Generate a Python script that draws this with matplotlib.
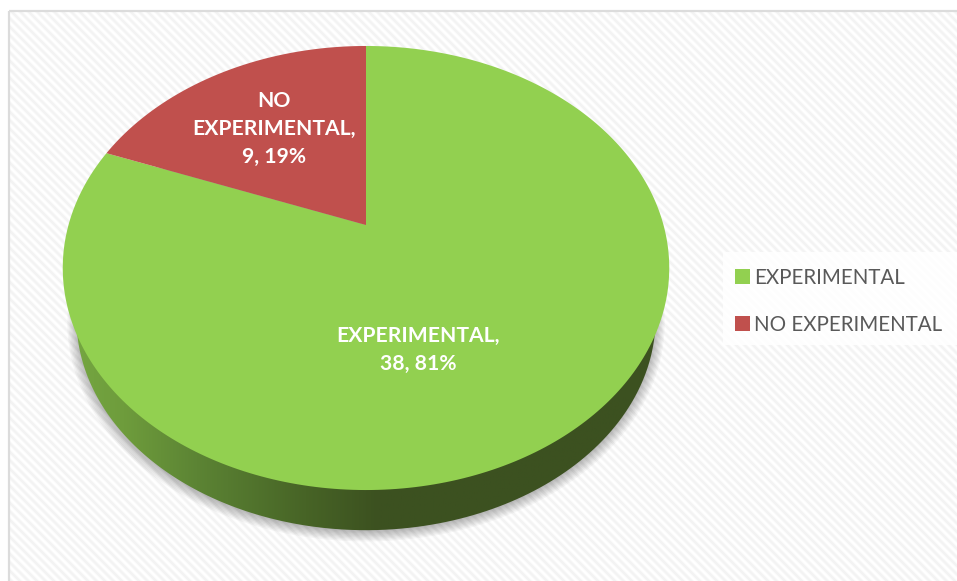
import numpy as np
import matplotlib
matplotlib.use('Agg')
import matplotlib.pyplot as plt
from matplotlib.colors import LinearSegmentedColormap
from matplotlib.patches import Polygon, Rectangle

categories = ['EXPERIMENTAL', 'NO EXPERIMENTAL']
counts = [38, 9]
percents = ['81%', '19%']
colors = ['#92D050', '#C0504D']

plt.rcParams['font.family'] = ['Lato', 'DejaVu Sans']

W, H = 957, 581
fig = plt.figure(figsize=(W / 100, H / 100), dpi=100)
ax = fig.add_axes([0, 0, 1, 1])


def project(theta, scale=1.0, dy=0.0):
    """Tilted pie: circle angle (clockwise from top) to pixel position."""
    p = 0.1937
    v = np.cos(theta)
    x = 366 + scale * 297.5 * np.sin(theta) / (1 + p * v)
    y = 225 - 43 * (1 - scale) - scale * 213.7 * v / (1 + p * v)
    return np.column_stack([x, y + dy])


# ── Background: fine diagonal stripes inside a light frame ──
yy, xx = np.mgrid[0:H, 0:W]
stripes = 0.5 + 0.5 * np.cos(2 * np.pi * (xx - yy) / 8.5)
bg = 1 - 0.05 * stripes
bg[:11, :] = 1
bg[:, :9] = 1
ax.imshow(bg, cmap='gray', vmin=0, vmax=1, extent=(0, W, H, 0),
          interpolation='bilinear', zorder=0)
ax.add_patch(Rectangle((9, 11), W, H, fill=False, ec='#DCDCDC', lw=1.6, zorder=1))

# ── Soft shadow under the pie ──
circle = np.linspace(0, 2 * np.pi, 400)
for grow in np.linspace(0.985, 0.945, 10):
    ax.add_patch(Polygon(project(circle, grow, 56), fc='black', ec='none',
                         alpha=0.035, zorder=2))

# ── Pie side with left-to-right shading ──
side = Polygon(project(circle, 0.955, 54), fc='none', ec='none', zorder=3)
ax.add_patch(side)
shade = LinearSegmentedColormap.from_list(
    'side', [(0, '#76A842'), (0.1, '#6E9C3C'), (0.22, '#5C8434'),
             (0.4, '#476426'), (0.52, '#3C5120'), (1, '#3C5120')])
grad = ax.imshow(np.linspace(0, 1, 256)[None, :], cmap=shade, aspect='auto',
                 extent=(63, 669, 540, 260), zorder=3)
grad.set_clip_path(side)

# ── Pie top, wedges run clockwise from 12 o'clock starting with the last one ──
total = sum(counts)
red_end = -2 * np.pi * counts[1] / total
th_red = np.linspace(red_end, 0, 80)
th_green = np.linspace(0, 2 * np.pi + red_end, 300)
apex = np.array([[366, 225]])
ax.add_patch(Polygon(np.vstack([apex, project(th_green)]), fc=colors[0], ec='none',
                     zorder=4, label=categories[0]))
ax.add_patch(Polygon(np.vstack([apex, project(th_red)]), fc=colors[1], ec='none',
                     zorder=5, label=categories[1]))

# ── Data labels ──
label_style = dict(color='white', fontweight='bold', fontsize=15.2, ha='center',
                   va='center', linespacing=1.47, zorder=6)
ax.text(418, 350, f'{categories[0]},\n{counts[0]}, {percents[0]}', **label_style)
ax.text(274, 129, f'NO\nEXPERIMENTAL,\n{counts[1]}, {percents[1]}', **label_style)

# ── Legend ──
ax.add_patch(Rectangle((723, 252), 234, 93, fc='white', ec='none', alpha=0.85, zorder=6))
legend = ax.legend(loc='upper left', bbox_to_anchor=(735, 268),
                   bbox_transform=ax.transData, borderaxespad=0, borderpad=0,
                   fontsize=14.8, frameon=False, handlelength=0.72, handleheight=0.72,
                   handletextpad=0.22, labelspacing=1.3, labelcolor='#595959')
legend.set_zorder(7)

ax.set_xlim(0, W)
ax.set_ylim(H, 0)
ax.axis('off')
fig.savefig('out.png', dpi=100)
